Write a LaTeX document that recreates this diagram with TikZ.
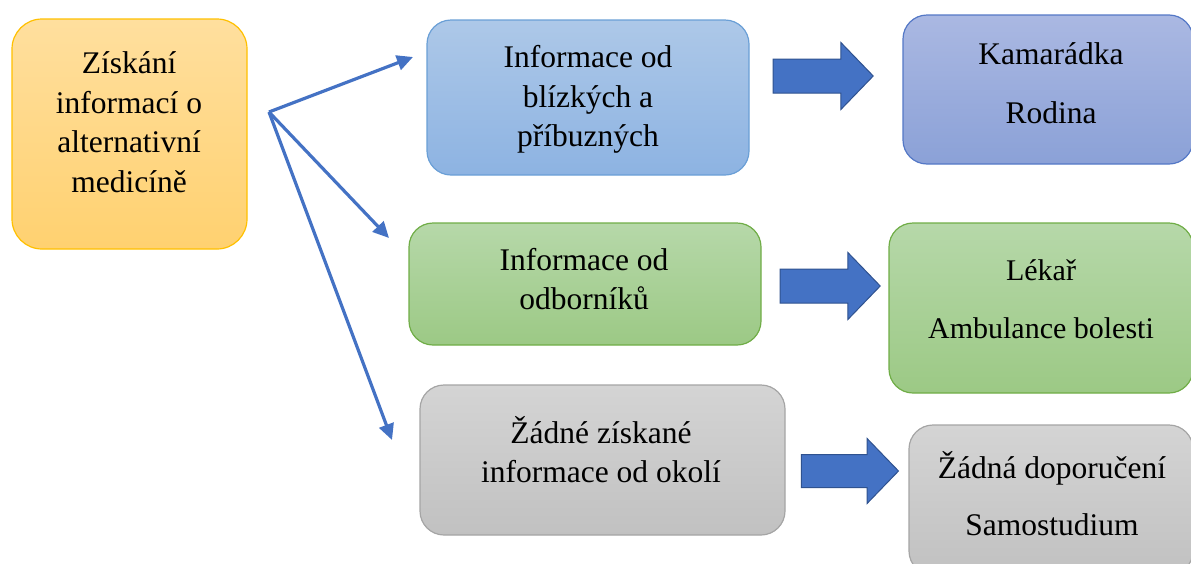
\documentclass[tikz,border=0pt]{standalone}
\usepackage{fontspec}
\setmainfont{Liberation Serif}
\usetikzlibrary{shapes.arrows,arrows.meta}

\definecolor{oraTop}{HTML}{FFDF9E}
\definecolor{oraBot}{HTML}{FFD170}
\definecolor{oraLine}{HTML}{FFC000}
\definecolor{bluTop}{HTML}{ADC8E8}
\definecolor{bluBot}{HTML}{8DB3E2}
\definecolor{bluLine}{HTML}{6A9FD6}
\definecolor{purTop}{HTML}{AAB8E2}
\definecolor{purBot}{HTML}{8BA1D7}
\definecolor{purLine}{HTML}{5478C6}
\definecolor{grnTop}{HTML}{B6D8A9}
\definecolor{grnBot}{HTML}{9CC985}
\definecolor{grnLine}{HTML}{70AD47}
\definecolor{gryTop}{HTML}{D4D4D4}
\definecolor{gryBot}{HTML}{C1C1C1}
\definecolor{gryLine}{HTML}{A5A5A5}
\definecolor{arrowFill}{HTML}{4472C4}
\definecolor{arrowLine}{HTML}{2F528F}

\begin{document}
\begin{tikzpicture}[x=1pt,y=-1pt,>={Triangle[length=16pt,width=15pt]}]
  \tikzstyle{box} = [draw, line width=1.2pt, rectangle, rounded corners=24pt, inner sep=0pt]
  \tikzstyle{boxText} = [align=center, inner sep=0pt, font={\fontsize{31.5}{39.5}\selectfont}]
  \tikzstyle{blockArrow} = [single arrow, draw=arrowLine, fill=arrowFill, line width=1pt, minimum height=100pt, inner xsep=0pt, inner ysep=16.5pt, single arrow head extend=16.5pt, single arrow tip angle=92];
  \tikzstyle{thinArrow} = [arrowFill, line width=3.2pt, ->];

  \useasboundingbox (0,0) rectangle (1191,563);
  \clip (0,0) rectangle (1191,563);

  % boxes
  \node[box, draw=oraLine, top color=oraTop, bottom color=oraBot, rounded corners=30pt, minimum width=235pt, minimum height=230pt] (zisk) at (129.5,134) {};
  \node[box, draw=bluLine, top color=bluTop, bottom color=bluBot, minimum width=322pt, minimum height=155pt] (blizci) at (588,97.5) {};
  \node[box, draw=purLine, top color=purTop, bottom color=purBot, minimum width=290pt, minimum height=149pt] (kamarad) at (1048,89.5) {};
  \node[box, draw=grnLine, top color=grnTop, bottom color=grnBot, minimum width=352pt, minimum height=122pt] (odbor) at (585,284) {};
  \node[box, draw=grnLine, top color=grnTop, bottom color=grnBot, minimum width=304pt, minimum height=170pt] (lekar) at (1041,308) {};
  \node[box, draw=gryLine, top color=gryTop, bottom color=gryBot, minimum width=365pt, minimum height=150pt] (zadne) at (602.5,460) {};
  \node[box, draw=gryLine, top color=gryTop, bottom color=gryBot, minimum width=284pt, minimum height=150pt] (doporuc) at (1051,500) {};

  % texts
  \node[boxText] (ziskText) at (129,122) {Získání\\informací o\\alternativní\\medicíně};
  \node[boxText] (blizciText) at (588,99.5) {Informace od\\blízkých a\\příbuzných};
  \node[boxText] (kamaradText) at (1051,83) {Kamarádka\\[20pt]Rodina};
  \node[boxText] (odborText) at (584,279) {Informace od\\odborníků};
  \node[boxText, font={\fontsize{30}{38}\selectfont}] (lekarText) at (1041,299) {Lékař\\[20pt]Ambulance bolesti};
  \node[boxText] (zadneText) at (601,449.5) {Žádné získané\\informace od okolí};
  \node[boxText] (doporucText) at (1052,493.5) {Žádná doporučení\\[18pt]Samostudium};

  % block arrows
  \node[blockArrow] (sipka1) at (815,76) {};
  \node[blockArrow] (sipka2) at (822,286) {};
  \node[blockArrow, minimum height=97pt, inner ysep=16pt, single arrow head extend=16pt] (sipka3) at (842,471) {};

  % thin arrows
  \coordinate (split) at (269,112);
  \coordinate (kBlizci) at (413,57);
  \coordinate (kOdbor) at (389,238);
  \coordinate (kZadne) at (392,440);
  \draw[thinArrow] (split) -- (kBlizci);
  \draw[thinArrow] (split) -- (kOdbor);
  \draw[thinArrow] (split) -- (kZadne);
\end{tikzpicture}
\end{document}
